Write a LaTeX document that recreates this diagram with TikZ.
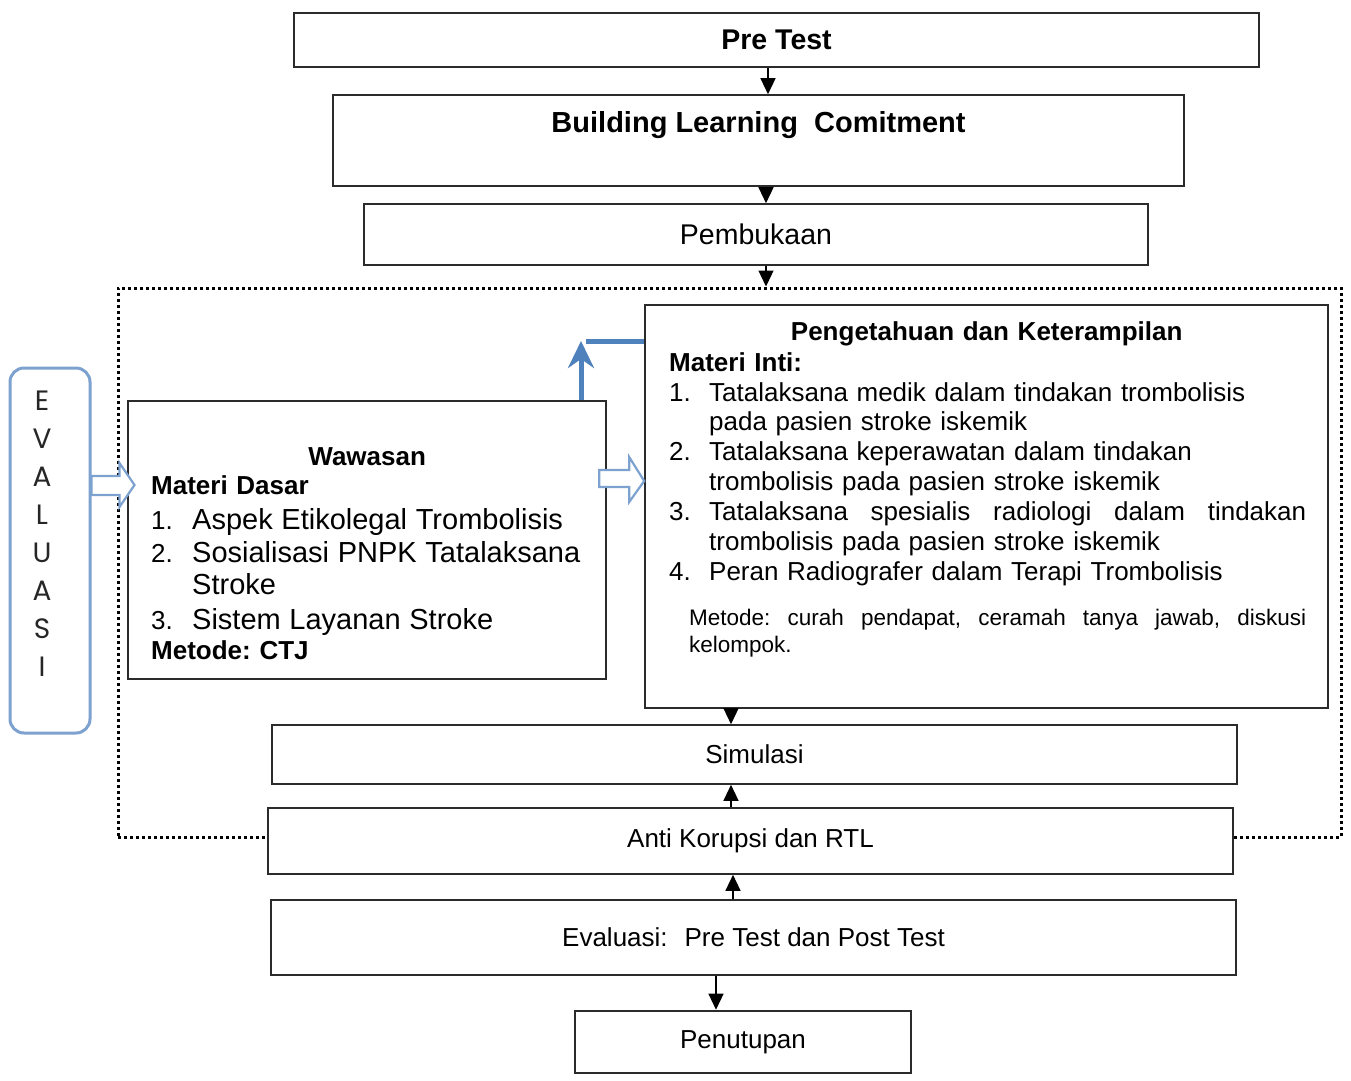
\documentclass[tikz,border=0pt]{standalone}
\usepackage{fontspec}
\setmainfont{Liberation Sans}
\newfontfamily\evalfont{Poppins}
\usepackage{xcolor}
\usetikzlibrary{arrows.meta, positioning}

\definecolor{evalblue}{HTML}{7DA2CF}
\definecolor{flowblue}{HTML}{4F81BD}
\definecolor{boxline}{HTML}{2B2B2B}

\begin{document}
\frenchspacing
\begin{tikzpicture}[
  x=1pt, y=-1pt,
  box/.style={rectangle, draw=boxline, line width=1.6pt, fill=white, inner sep=0pt, text centered, font=\fontsize{26}{30}\selectfont},
  titlebox/.style={box, font=\fontsize{28.5}{32}\selectfont\bfseries},
  content/.style={inner sep=0pt, align=left, anchor=north west, font=\fontsize{26}{30}\selectfont},
  session/.style={rectangle, draw=black, line width=3pt, dash pattern=on 3pt off 3pt},
  evalframe/.style={rectangle, draw=evalblue, line width=3pt, rounded corners=14pt, fill=white},
  hollow/.style={draw=evalblue, line width=2.2pt, fill=white, line join=miter},
  arrow/.style={line width=1.3pt, draw=black, -{Triangle[length=16pt,width=15pt]}},
  flow/.style={line width=5pt, draw=flowblue}
]
\useasboundingbox (0,0) rectangle (1351,1080);

% Dotted session frame
\node[session, minimum width=1223pt, minimum height=549pt] (sesi) at (729.5,562.5) {};

% Opening boxes
\node[titlebox, minimum width=965pt, minimum height=54pt] (pretest) at (776.5,40) {Pre Test};
\node[titlebox, font=\fontsize{29}{32}\selectfont\bfseries, minimum width=851pt, minimum height=91pt, text height=37.5pt, text depth=53.5pt] (blc) at (758.5,140.5) {Building Learning\ \ Comitment};
\node[box, font=\fontsize{28.5}{32}\selectfont, minimum width=784pt, minimum height=61pt] (pemb) at (756,234.5) {Pembukaan};

% Evaluation side bar
\node[evalframe, minimum width=80pt, minimum height=365pt] (evalbox) at (50,550.5) {};
\node[inner sep=0pt, align=center, font=\evalfont\fontsize{28}{38}\selectfont, text=black!85] (evaltext) at (42,534) {E\\V\\A\\L\\U\\A\\S\\I};

% Materi Dasar
\node[box, minimum width=478pt, minimum height=278pt] (wawasan) at (367,540) {};
\node[content, text width=450pt] (wawasantext) at (151,447.4) {\noindent
\makebox[432pt][c]{\bfseries Wawasan}\\[-1pt]
\textbf{Materi Dasar}\\[5pt]
\makebox[41pt][l]{1.}{\fontsize{29}{30}\selectfont Aspek Etikolegal Trombolisis}\\[3pt]
\makebox[41pt][l]{2.}{\fontsize{29}{30}\selectfont Sosialisasi PNPK Tatalaksana}\\[2pt]
\hspace*{41pt}{\fontsize{29}{30}\selectfont Stroke}\\[5pt]
\makebox[41pt][l]{3.}{\fontsize{29}{30}\selectfont Sistem Layanan Stroke}\\
\textbf{Metode: CTJ}};

% Materi Inti
\node[box, minimum width=683pt, minimum height=403pt] (peng) at (986.5,506.5) {};
\node[content, text width=640pt] (pengtext) at (669,321.4) {\noindent
\makebox[635pt][c]{\bfseries Pengetahuan dan Keterampilan}\\[1pt]
\textbf{Materi Inti:}\\
\makebox[40pt][l]{1.}Tatalaksana medik dalam tindakan trombolisis\\[-1pt]
\hspace*{40pt}pada pasien stroke iskemik\\
\makebox[40pt][l]{2.}Tatalaksana keperawatan dalam tindakan\\
\hspace*{40pt}trombolisis pada pasien stroke iskemik\\
\makebox[40pt][l]{3.}\hbox to 597pt{Tatalaksana\hfill spesialis\hfill radiologi\hfill dalam\hfill tindakan}\\
\hspace*{40pt}trombolisis pada pasien stroke iskemik\\
\makebox[40pt][l]{4.}Peran Radiografer dalam Terapi Trombolisis\\[15pt]
{\fontsize{22.5}{30}\selectfont\hspace*{20pt}\hbox to 617pt{Metode:\hfill curah\hfill pendapat,\hfill ceramah\hfill tanya\hfill jawab,\hfill diskusi}}\\[-3pt]
{\fontsize{22.5}{30}\selectfont\hspace*{20pt}kelompok.}};

% Closing boxes
\node[box, minimum width=965pt, minimum height=59pt] (sim) at (754.5,754.5) {Simulasi};
\node[box, minimum width=965pt, minimum height=66pt] (anti) at (750.5,841) {Anti Korupsi dan RTL};
\node[box, minimum width=965pt, minimum height=75pt] (evaluasi) at (753.5,937.5) {Evaluasi:\hspace{17pt}Pre Test dan Post Test};
\node[box, line width=2.6pt, minimum width=336pt, minimum height=62pt] (penutup) at (743,1042) {Penutupan};

% Main flow arrows
\draw[arrow] (pretest.south -| 768,0) -- (blc.north -| 768,0);
\draw[arrow] (blc.south -| 766,0) -- (pemb.north -| 766,0);
\draw[arrow] (pemb.south -| 766,0) -- (sesi.north -| 766,0);
\draw[arrow] (peng.south -| 731,0) -- (sim.north -| 731,0);
\draw[arrow] (anti.north -| 731,0) -- (sim.south -| 731,0);
\draw[arrow] (evaluasi.north -| 733,0) -- (anti.south -| 733,0);
\draw[arrow] (evaluasi.south -| 716,0) -- (penutup.north -| 716,0);

% Blue connectors
\coordinate (bend) at (581,341);
\draw[flow, -{Stealth[length=27pt,width=26pt,inset=9pt]}] (wawasan.north -| bend) -- (bend);
\draw[flow] ([xshift=5pt]bend) -- (peng.west |- bend);

\draw[hollow] (evalbox.east |- 0,476) -- ++(28,0) -- ++(0,-13) -- ++(15,22) -- ++(-15,22) -- ++(0,-12) -- ++(-28,0) -- cycle;
\draw[hollow] (peng.west |- 0,481) -- ++(-15,-24) -- ++(0,13) -- ++(-30,0) -- ++(0,17) -- ++(30,0) -- ++(0,15) -- cycle;

\end{tikzpicture}
\end{document}
